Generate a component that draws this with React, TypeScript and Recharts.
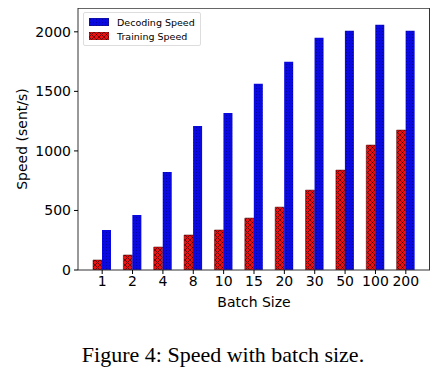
import React from "react";
import { BarChart, Bar, XAxis, YAxis, ReferenceLine } from "recharts";

const batchSizes = ["1", "2", "4", "8", "10", "15", "20", "30", "50", "100", "200"];
const trainingSpeed = [84, 126, 193, 294, 336, 436, 528, 671, 839, 1049, 1175];
const decodingSpeed = [336, 462, 823, 1210, 1319, 1563, 1748, 1950, 2008, 2059, 2008];
const yTicks = [0, 500, 1000, 1500, 2000];
const Y_MAX = 2200;

const data = batchSizes.map((b, i) => ({
  batch: b,
  training: trainingSpeed[i],
  decoding: decodingSpeed[i],
}));

const FONT = "'DejaVu Sans', sans-serif";
const AXIS = "#333";
const TICK = { fill: "#000", fontSize: 14, fontFamily: FONT };

const W = 446;
const H = 316;
const MARGIN = { top: 8, right: 16, left: 0, bottom: 6 };
const Y_AXIS_W = 78;
const X_AXIS_H = 40;

// right edge of the plot box, derived from the chart layout constants
const PLOT_R = W - MARGIN.right;
const PLOT_T = MARGIN.top;
const PLOT_B = H - MARGIN.bottom - X_AXIS_H;

const YLabel = (props: any) => {
  const vb = props.viewBox || {};
  const cy = vb.y + vb.height / 2;
  return (
    <text
      x={22}
      y={cy}
      transform={`rotate(-90, 22, ${cy})`}
      textAnchor="middle"
      dominantBaseline="central"
      fontSize={14}
      fontFamily={FONT}
      fill="#000"
    >
      Speed (sent/s)
    </text>
  );
};

function Legend() {
  const item = (fill: string, label: string) => (
    <div style={{ display: "flex", alignItems: "center", height: 14 }}>
      <svg width={20} height={8} style={{ marginRight: 8 }}>
        <rect x={0} y={0} width={20} height={8} fill={fill} stroke="#222" strokeWidth={0.5} />
      </svg>
      <span>{label}</span>
    </div>
  );
  return (
    <div
      style={{
        position: "absolute",
        left: 83,
        top: 12,
        padding: "2px 5px",
        border: "1px solid #ddd",
        borderRadius: 2,
        background: "rgba(255,255,255,0.85)",
        fontFamily: FONT,
        fontSize: 9.5,
        color: "#000",
        zIndex: 2,
      }}
    >
      {item("url(#decHatch)", "Decoding Speed")}
      {item("url(#trainHatch)", "Training Speed")}
    </div>
  );
}

export default function App() {
  return (
    <div style={{ position: "relative", margin: -8, width: 446, height: 377, background: "#fff" }}>
      <svg width={0} height={0} style={{ position: "absolute" }}>
        <defs>
          <pattern id="trainHatch" width={5} height={5} patternUnits="userSpaceOnUse">
            <rect width={5} height={5} fill="#ee1111" />
            <path d="M0,0 L5,5 M5,0 L0,5" stroke="#200" strokeWidth={0.6} />
          </pattern>
          <pattern id="decHatch" width={3} height={3} patternUnits="userSpaceOnUse">
            <rect width={3} height={3} fill="#0a0ae0" />
            <circle cx={1.5} cy={1.5} r={0.5} fill="#000090" />
          </pattern>
        </defs>
      </svg>
      <BarChart width={W} height={H} data={data} margin={MARGIN} barGap={0} barSize={9}>
        <XAxis
          dataKey="batch"
          padding={{ left: 9, right: 9 }}
          height={X_AXIS_H}
          tick={TICK}
          tickSize={4}
          tickMargin={2}
          stroke={AXIS}
          tickLine={{ stroke: "#000" }}
          interval={0}
          label={{ value: "Batch Size", position: "insideBottom", offset: 3, fontSize: 14, fontFamily: FONT, fill: "#000" }}
        />
        <YAxis
          width={Y_AXIS_W}
          domain={[0, Y_MAX]}
          ticks={yTicks}
          tick={TICK}
          tickSize={4}
          tickMargin={3}
          stroke={AXIS}
          tickLine={{ stroke: "#000" }}
          allowDataOverflow
          label={{ content: YLabel }}
        />
        {/* top spine */}
        <ReferenceLine y={Y_MAX} stroke={AXIS} strokeWidth={1.5} ifOverflow="visible" />
        <Bar dataKey="training" fill="url(#trainHatch)" stroke="#400" strokeWidth={0.5} isAnimationActive={false} />
        <Bar dataKey="decoding" fill="url(#decHatch)" isAnimationActive={false} />
      </BarChart>
      {/* right spine */}
      <div
        style={{
          position: "absolute",
          left: PLOT_R - 1,
          top: PLOT_T,
          width: 0,
          height: PLOT_B - PLOT_T,
          borderLeft: `1.5px solid ${AXIS}`,
          zIndex: 1,
        }}
      />
      <Legend />
      <div
        style={{
          position: "absolute",
          left: 0,
          width: 446,
          top: 342,
          textAlign: "center",
          fontFamily: "'Liberation Serif', 'Times New Roman', serif",
          fontSize: 22,
          color: "#000",
        }}
      >
        Figure 4: Speed with batch size.
      </div>
    </div>
  );
}
